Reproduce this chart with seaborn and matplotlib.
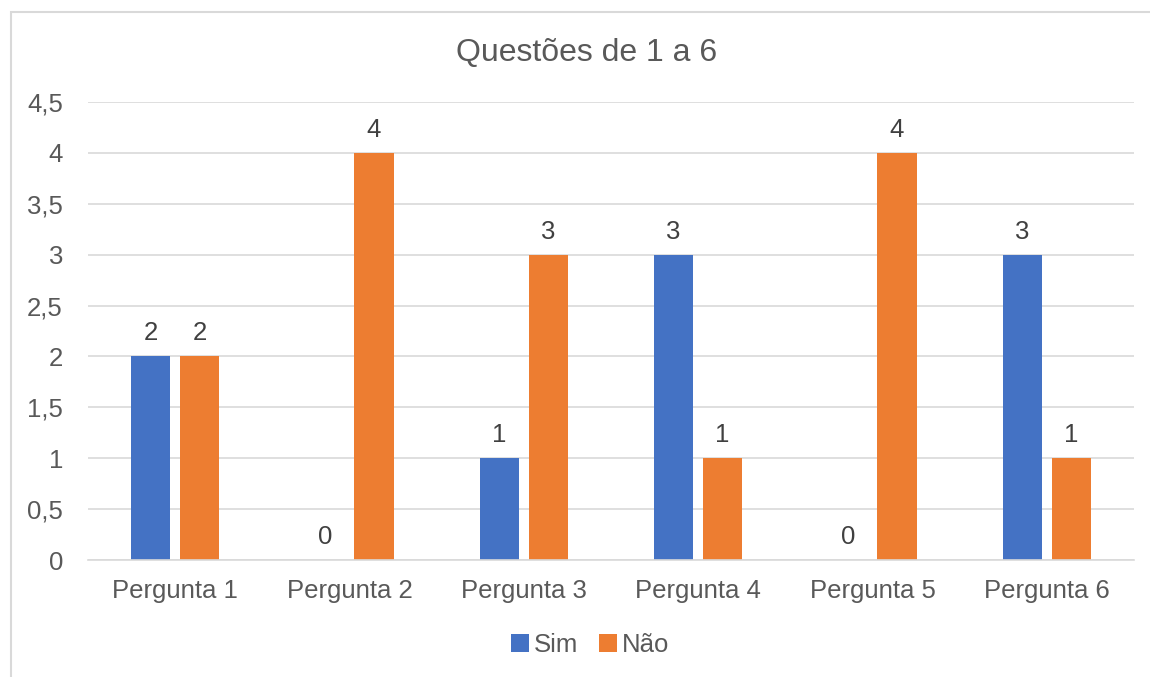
import matplotlib
matplotlib.use("Agg")
import matplotlib.pyplot as plt
import seaborn as sns
import pandas as pd
from matplotlib.patches import Rectangle
from matplotlib.ticker import FuncFormatter

categories = ["Pergunta 1", "Pergunta 2", "Pergunta 3", "Pergunta 4", "Pergunta 5", "Pergunta 6"]
sim = [2, 0, 1, 3, 0, 3]
nao = [2, 4, 3, 1, 4, 1]
series_names = ["Sim", "Não"]
title = "Questões de 1 a 6"

df = pd.DataFrame({
    "cat": categories * 2,
    "val": sim + nao,
    "serie": [series_names[0]] * len(categories) + [series_names[1]] * len(categories),
})

sns.set_style("white")
plt.rcParams["font.family"] = ["Liberation Sans", "DejaVu Sans"]
TXT = "#595959"
FS = 18.5

fig = plt.figure(figsize=(11.5, 6.77), dpi=100)
ax = fig.add_axes([88/1150, 1-560/677, (1134-88)/1150, (560-102)/677])

sns.barplot(data=df, x="cat", y="val", hue="serie", order=categories,
            hue_order=series_names, palette=["#4472C4", "#ED7D31"], saturation=1,
            width=0.562, gap=0.2, linewidth=0, ax=ax, legend=True)

ax.set_ylim(0, 4.5)
ax.set_yticks([i * 0.5 for i in range(10)])
ax.yaxis.set_major_formatter(FuncFormatter(lambda v, p: (f"{v:g}").replace(".", ",")))
ax.grid(axis="y", color="#d9d9d9", linewidth=1.2)
ax.set_axisbelow(True)
for s in ["top", "right", "left"]:
    ax.spines[s].set_visible(False)
ax.spines["bottom"].set_color("#d9d9d9")
ax.spines["bottom"].set_linewidth(1.2)
ax.tick_params(axis="y", length=0, pad=18, labelsize=FS, labelcolor=TXT)
ax.tick_params(axis="x", length=0, pad=14, labelsize=FS, labelcolor=TXT)
ax.set_xlabel("")
ax.set_ylabel("")

for cont in ax.containers:
    ax.bar_label(cont, labels=[f"{v:g}" for v in cont.datavalues], padding=8,
                 fontsize=FS, color="#404040")

ax.legend_.remove()
handles, labels = ax.get_legend_handles_labels()
fig.legend(handles, labels, loc="center", bbox_to_anchor=(590/1150, 1-645/677),
           ncol=2, frameon=False, fontsize=FS, labelcolor=TXT,
           handlelength=0.7, handleheight=0.7, handletextpad=0.2, columnspacing=0.8)

fig.text(587/1150, 1-53/677, title, ha="center", va="center", fontsize=23, color=TXT)

fig.patches.append(Rectangle((11/1150, -0.1), 1.2, 1.1 - 12/677, transform=fig.transFigure,
                             fill=False, edgecolor="#d9d9d9", linewidth=1.5, zorder=-1))

fig.savefig("out.png", dpi=100, facecolor="white")
